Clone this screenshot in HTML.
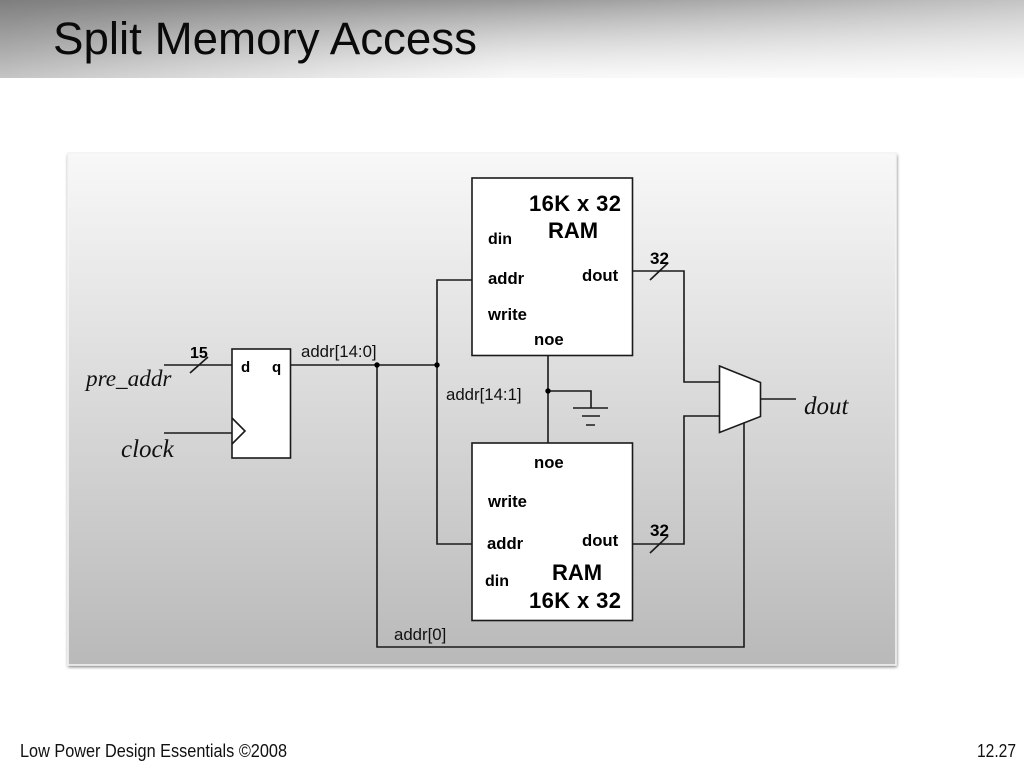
<!DOCTYPE html>
<html><head><meta charset="utf-8"><style>
html,body{margin:0;padding:0;background:#fff;width:1024px;height:768px;overflow:hidden}
svg{display:block}
text{font-family:"Liberation Sans",sans-serif;fill:#111}
.s{font-family:"Liberation Serif",serif;font-style:italic}
.p{font-size:16.800px}.l{font-size:16.700px;font-weight:bold;fill:#000}.t{font-size:22px;font-weight:bold;fill:#000}
</style></head><body>
<svg width="1024" height="768" viewBox="0 0 1024 768" xmlns="http://www.w3.org/2000/svg">
<defs>
<linearGradient id="h1" x1="0" x2="1" y1="0" y2="0"><stop offset="0" stop-color="#7e7e7e"/><stop offset=".5" stop-color="#999"/><stop offset="1" stop-color="#c4c4c4"/></linearGradient>
<linearGradient id="h2" x1="0" x2="0" y1="0" y2="1"><stop offset="0" stop-color="#fff" stop-opacity="0"/><stop offset="1" stop-color="#fff" stop-opacity=".55"/></linearGradient>
<linearGradient id="h4" x1="0" x2="0" y1="0" y2="1"><stop offset="0" stop-color="#fff" stop-opacity="0"/><stop offset="1" stop-color="#fff" stop-opacity=".85"/></linearGradient>
<linearGradient id="mk" x1="0" x2="1" y1="0" y2="0"><stop offset="0" stop-color="#000"/><stop offset=".5" stop-color="#fff"/><stop offset="1" stop-color="#fff"/></linearGradient>
<mask id="m" maskUnits="userSpaceOnUse" x="0" y="0" width="1024" height="78"><rect x="0" y="0" width="1024" height="78" fill="url(#mk)"/></mask>
<linearGradient id="p" x1="0" x2="0" y1="0" y2="1"><stop offset="0" stop-color="#f8f8f8"/><stop offset="1" stop-color="#b9b9b9"/></linearGradient>
<filter id="sh" x="-3%" y="-3%" width="106%" height="106%"><feGaussianBlur stdDeviation="1.6"/></filter>
</defs>
<rect x="0" y="0" width="1024" height="78" fill="url(#h1)"/>
<rect x="0" y="0" width="1024" height="78" fill="url(#h2)"/>
<rect x="0" y="0" width="1024" height="78" fill="url(#h4)" mask="url(#m)"/>
<text x="53" y="54" font-size="45.700" style="fill:#0a0a0a">Split Memory Access</text>

<rect x="68" y="155" width="829" height="512" fill="#777" filter="url(#sh)"/>
<rect x="68" y="153" width="828" height="512" fill="url(#p)" stroke="#f4f4f4" stroke-width="1.6"/>

<g fill="none" stroke="#1a1a1a" stroke-width="1.6">
<rect x="472" y="178" width="160.500" height="177.500" fill="#fff"/>
<rect x="472" y="443" width="160.500" height="177.500" fill="#fff"/>
<rect x="232" y="349" width="58.500" height="109" fill="#fff"/>
<path d="M232 418L245 431 232 444"/>
<path d="M164 365H232M164 433H232"/>
<path d="M190 373L208 357"/>
<path d="M291 365H437M472 280H437V544H472"/>
<path d="M377 365V647H744V416"/>
<path d="M548 356V443M548 391H591V408"/>
<path d="M573 408H608M582 416H600M586 425H595"/>
<path d="M633 271H684V382H720M633 544H684V416H720"/>
<path d="M650 280L668 263M650 553L668 536"/>
<path d="M719.500 366L760.500 382.500V416.500L719.500 432.500Z" fill="#fff"/>
<path d="M761 399H796"/>
</g>
<g fill="#000"><circle cx="377" cy="365" r="2.700"/><circle cx="437" cy="365" r="2.700"/><circle cx="548" cy="391" r="2.700"/></g>

<text x="190" y="358" class="l" style="font-size:16px">15</text>
<text x="241" y="372" class="l" style="font-size:15px">d</text>
<text x="272" y="372" class="l" style="font-size:15px">q</text>
<text x="301" y="357" class="p">addr[14:0]</text>
<text x="446" y="400" class="p">addr[14:1]</text>
<text x="394" y="640" class="p">addr[0]</text>
<text x="86" y="386" class="s" style="font-size:23.200px">pre_addr</text>
<text x="121" y="457" class="s" style="font-size:25px">clock</text>
<text x="804" y="414" class="s" style="font-size:25px">dout</text>

<text x="529" y="211" class="t" textLength="92">16K x 32</text>
<text x="548" y="238" class="t">RAM</text>
<text x="488" y="244" class="l" style="font-size:16px">din</text>
<text x="488" y="284" class="l">addr</text>
<text x="582" y="281" class="l">dout</text>
<text x="488" y="320" class="l">write</text>
<text x="534" y="345" class="l">noe</text>
<text x="650" y="264" class="l" style="font-size:17px">32</text>

<text x="534" y="468" class="l">noe</text>
<text x="488" y="507" class="l">write</text>
<text x="487" y="549" class="l">addr</text>
<text x="582" y="546" class="l">dout</text>
<text x="485" y="586" class="l" style="font-size:16px">din</text>
<text x="552" y="580" class="t">RAM</text>
<text x="529" y="608" class="t" textLength="92">16K x 32</text>
<text x="650" y="536" class="l" style="font-size:17px">32</text>

<text x="20" y="757" font-size="18.500" textLength="267" lengthAdjust="spacingAndGlyphs">Low Power Design Essentials ©2008</text>
<text x="977" y="757" font-size="18.500" textLength="39" lengthAdjust="spacingAndGlyphs">12.27</text>
</svg>
</body></html>
